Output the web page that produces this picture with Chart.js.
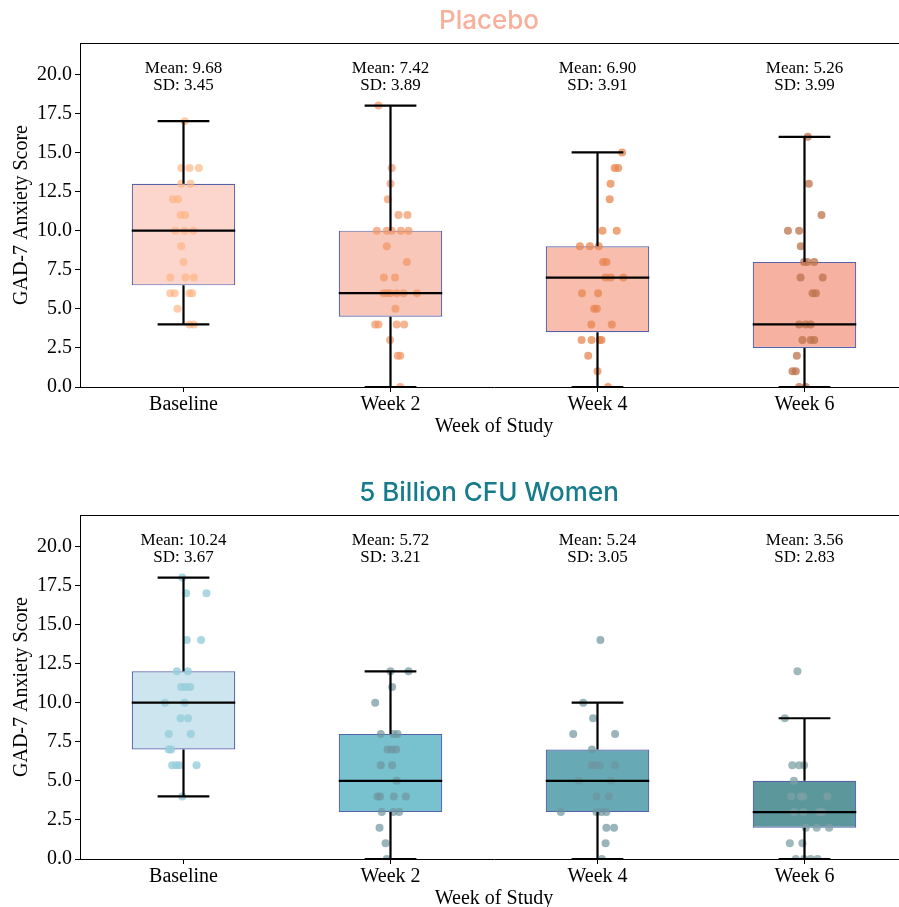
<!DOCTYPE html>
<html>
<head>
<meta charset="utf-8">
<script src="https://cdn.jsdelivr.net/npm/chart.js@4.4.1/dist/chart.umd.min.js"></script>
<style>
    html, body { margin: 0; padding: 0; background: #fff; overflow: hidden; }
    #wrap { position: relative; width: 899px; height: 907px; overflow: hidden; }
    canvas { position: absolute; left: 0; }
</style>
</head>
<body>
<div id="wrap">
    <canvas id="placeboChart" width="912" height="450" style="top:0px"></canvas>
    <canvas id="cfuChart" width="912" height="450" style="top:472px"></canvas>
</div>
<script>
const weeks = ['Baseline', 'Week 2', 'Week 4', 'Week 6'];

// Placebo summary
const placeboMean = [9.68, 7.42, 6.90, 5.26];
const placeboSD = [3.45, 3.89, 3.91, 3.99];
const placeboQ1 = [6.5, 4.5, 3.5, 2.5];
const placeboMedian = [10, 6, 7, 4];
const placeboQ3 = [13, 10, 9, 8];
const placeboLow = [4, 0, 0, 0];
const placeboHigh = [17, 18, 15, 16];

// Placebo individual scores (with strip jitter)
const placeboBaseline = [17, 14, 14, 14, 13, 13, 12, 12, 11, 11, 10, 10, 10, 9, 8, 7, 7, 7, 6, 6, 6, 6, 5, 4, 4];
const placeboBaselineJitter = [0.006, -0.011, 0.029, 0.074, -0.011, 0.034, -0.051, -0.027, -0.014, 0.008, -0.040, 0.005, 0.048, -0.011, 0.0, -0.064, 0.010, 0.050, -0.064, -0.043, 0.029, 0.042, -0.029, 0.029, 0.050];
const placeboWeek2 = [18, 14, 13, 12, 11, 11, 10, 10, 10, 10, 10, 9, 8, 7, 7, 6, 6, 6, 6, 6, 6, 5, 4, 4, 4, 4, 3, 2, 2, 0];
const placeboWeek2Jitter = [-0.058, 0.006, 0, -0.013, 0.039, 0.082, -0.066, -0.018, 0.006, 0.050, 0.087, -0.018, 0.079, -0.032, 0.022, -0.034, -0.018, -0.002, 0.030, 0.063, 0.128, 0.024, -0.074, -0.058, 0.030, 0.066, -0.002, 0.035, 0.047, 0.047];
const placeboWeek4 = [15, 14, 14, 13, 12, 10, 10, 9, 9, 9, 8, 8, 7, 7, 7, 6, 6, 5, 5, 4, 4, 3, 3, 3, 3, 2, 1, 0];
const placeboWeek4Jitter = [0.119, 0.083, 0.100, 0.063, 0.059, 0.024, 0.093, -0.085, -0.037, 0.006, 0.027, 0.043, 0.039, 0.064, 0.125, -0.075, 0.003, -0.016, -0.003, -0.030, 0.069, -0.077, -0.029, 0.011, 0.019, -0.045, 0, 0.051];
const placeboWeek6 = [16, 13, 11, 10, 10, 9, 8, 8, 8, 7, 7, 6, 6, 4, 4, 4, 3, 3, 3, 2, 1, 1, 0, 0];
const placeboWeek6Jitter = [0.016, 0.021, 0.082, -0.080, -0.026, -0.018, -0.002, 0.014, 0.047, -0.019, 0.088, 0.039, 0.055, -0.026, 0.006, 0.030, -0.010, 0.030, 0.047, -0.037, -0.058, -0.042, -0.026, 0.006];

// 5 Billion CFU summary
const cfuMean = [10.24, 5.72, 5.24, 3.56];
const cfuSD = [3.67, 3.21, 3.05, 2.83];
const cfuQ1 = [7, 3, 3, 2];
const cfuMedian = [10, 5, 5, 3];
const cfuQ3 = [12, 8, 7, 5];
const cfuLow = [4, 0, 0, 0];
const cfuHigh = [18, 12, 10, 9];

const cfuBaseline = [18, 17, 17, 14, 14, 12, 12, 11, 11, 11, 10, 10, 9, 9, 8, 8, 7, 7, 6, 6, 6, 6, 4];
const cfuBaselineJitter = [-0.006, 0.013, 0.111, 0.016, 0.085, -0.032, 0.021, -0.011, 0.010, 0.032, -0.090, 0.005, -0.014, 0.022, -0.071, 0.035, -0.071, -0.059, -0.055, -0.035, -0.019, 0.063, -0.006];
const cfuWeek2 = [12, 12, 11, 10, 8, 8, 8, 7, 7, 7, 6, 6, 5, 4, 4, 4, 4, 3, 3, 3, 2, 1, 0];
const cfuWeek2Jitter = [0, 0.087, 0.008, -0.074, -0.047, 0.014, 0.034, -0.014, 0.006, 0.027, -0.047, 0.008, 0.030, -0.063, -0.050, 0.016, 0.074, -0.042, 0.014, 0.042, -0.053, -0.024, -0.018];
const cfuWeek4 = [14, 10, 9, 8, 8, 7, 6, 6, 6, 6, 5, 5, 4, 4, 3, 3, 3, 3, 2, 2, 1, 0];
const cfuWeek4Jitter = [0.014, -0.069, -0.021, -0.117, 0.085, -0.027, -0.029, -0.013, 0.011, 0.085, -0.090, 0.066, -0.005, 0.055, -0.177, -0.005, 0.019, 0.043, 0.043, 0.080, 0.039, 0.021];
const cfuWeek6 = [12, 9, 6, 6, 6, 5, 4, 4, 4, 4, 3, 3, 3, 3, 2, 2, 2, 1, 1, 0, 0, 0, 0];
const cfuWeek6Jitter = [-0.034, -0.095, -0.059, -0.026, -0.002, -0.051, -0.064, -0.018, -0.005, 0.111, -0.050, -0.005, 0.071, 0.087, 0.006, 0.059, 0.119, -0.071, -0.010, -0.042, -0.002, 0.030, 0.063];

const placeboBoxColors = ['#fcd6cc', '#f9c7ba', '#f8bdad', '#f6b1a0'];
const placeboDotColors = ['rgba(253,178,128,0.65)', 'rgba(242,150,100,0.7)', 'rgba(232,135,80,0.75)', 'rgba(190,115,75,0.75)'];
const cfuBoxColors = ['#cce5ee', '#78c2cf', '#67aab5', '#5b979b'];
const cfuDotColors = ['rgba(150,205,220,0.8)', 'rgba(110,148,158,0.7)', 'rgba(110,148,158,0.7)', 'rgba(125,160,166,0.75)'];

const serif = "'Liberation Serif', 'Times New Roman', serif";

const panelPlugin = {
    id: 'panel',
    afterDatasetsDraw(chart, args, opts) {
        const { ctx, chartArea, scales } = chart;
        ctx.save();
        // frame (top / right spines)
        ctx.strokeStyle = '#000';
        ctx.lineWidth = 1;
        ctx.beginPath();
        ctx.moveTo(chartArea.left, chartArea.top + 0.5);
        ctx.lineTo(chartArea.right, chartArea.top + 0.5);
        ctx.lineTo(chartArea.right - 0.5, chartArea.bottom);
        ctx.stroke();
        // mean / sd labels
        ctx.fillStyle = '#000';
        ctx.font = '17px ' + serif;
        ctx.textAlign = 'center';
        ctx.textBaseline = 'middle';
        opts.mean.forEach((m, i) => {
            const x = scales.x.getPixelForValue(i);
            ctx.fillText('Mean: ' + m.toFixed(2), x, chartArea.top + 26);
            ctx.fillText('SD: ' + opts.sd[i].toFixed(2), x, chartArea.top + 43);
        });
        // panel title
        ctx.font = '500 26px Inter, sans-serif';
        ctx.fillStyle = opts.titleColor;
        ctx.fillText(opts.title, (chartArea.left + chartArea.right) / 2 - 5, 21);
        ctx.restore();
    }
};

function buildChart(canvasId, title, titleColor, stats, groups, jitters, boxColors, dotColors) {
    const datasets = [];

    datasets.push({
        type: 'bar',
        data: stats.q1.map((q, i) => ({ x: i, y: [q, stats.q3[i]] })),
        backgroundColor: boxColors,
        borderColor: 'rgba(55,70,155,0.85)',
        borderWidth: 1.2,
        borderSkipped: false,
        barPercentage: 0.5,
        categoryPercentage: 1,
        order: 3
    });

    groups.forEach((scores, i) => {
        datasets.push({
            type: 'scatter',
            data: scores.map((s, k) => ({ x: i + jitters[i][k], y: s })),
            backgroundColor: dotColors[i],
            borderWidth: 0,
            pointRadius: 4,
            order: 2
        });
    });

    const segs = [];
    stats.q1.forEach((q, i) => {
        segs.push({ x: i, y: stats.low[i] }, { x: i, y: q }, { x: i, y: null });
        segs.push({ x: i, y: stats.q3[i] }, { x: i, y: stats.high[i] }, { x: i, y: null });
        segs.push({ x: i - 0.125, y: stats.low[i] }, { x: i + 0.125, y: stats.low[i] }, { x: i, y: null });
        segs.push({ x: i - 0.125, y: stats.high[i] }, { x: i + 0.125, y: stats.high[i] }, { x: i, y: null });
        segs.push({ x: i - 0.25, y: stats.median[i] }, { x: i + 0.25, y: stats.median[i] }, { x: i, y: null });
    });
    datasets.push({
        type: 'scatter',
        data: segs,
        showLine: true,
        spanGaps: false,
        borderColor: '#000',
        borderWidth: 2.2,
        pointRadius: 0,
        order: 1
    });

    const ctx = document.getElementById(canvasId).getContext('2d');
    new Chart(ctx, {
        type: 'scatter',
        data: { datasets },
        options: {
            responsive: false,
            animation: false,
            devicePixelRatio: 1,
            layout: { padding: { top: 43, right: 0, left: 0, bottom: 11 } },
            plugins: {
                legend: { display: false },
                tooltip: { enabled: false },
                panel: { title, titleColor, mean: stats.mean, sd: stats.sd }
            },
            scales: {
                x: {
                    type: 'linear',
                    min: -0.5,
                    max: 3.5,
                    offset: false,
                    afterBuildTicks: (scale) => { scale.ticks = weeks.map((w, i) => ({ value: i })); },
                    afterFit: (scale) => { scale.height = 52; },
                    ticks: {
                        callback: (v) => weeks[v],
                        color: '#000',
                        font: { family: serif, size: 20 },
                        padding: 1,
                        maxRotation: 0,
                        autoSkip: false
                    },
                    grid: { display: true, drawOnChartArea: false, tickLength: 5, color: '#000', offset: false },
                    border: { display: true, color: '#000', width: 1 },
                    title: { display: true, text: 'Week of Study', color: '#000', font: { family: serif, size: 20 }, padding: { top: 0, bottom: 0 } }
                },
                y: {
                    min: 0,
                    max: 22,
                    afterFit: (scale) => { scale.width = 80; },
                    ticks: {
                        stepSize: 2.5,
                        includeBounds: false,
                        callback: (v) => v.toFixed(1),
                        color: '#000',
                        font: { family: serif, size: 20 },
                        padding: 3
                    },
                    grid: { display: true, drawOnChartArea: false, tickLength: 5, color: '#000' },
                    border: { display: true, color: '#000', width: 1 },
                    title: { display: true, text: 'GAD-7 Anxiety Score', color: '#000', font: { family: serif, size: 20 }, padding: { top: 10, bottom: 0 } }
                }
            }
        },
        plugins: [panelPlugin]
    });
}

buildChart('placeboChart', 'Placebo', '#f8b09c',
    { mean: placeboMean, sd: placeboSD, q1: placeboQ1, median: placeboMedian, q3: placeboQ3, low: placeboLow, high: placeboHigh },
    [placeboBaseline, placeboWeek2, placeboWeek4, placeboWeek6],
    [placeboBaselineJitter, placeboWeek2Jitter, placeboWeek4Jitter, placeboWeek6Jitter],
    placeboBoxColors, placeboDotColors);

buildChart('cfuChart', '5 Billion CFU Women', '#167b8b',
    { mean: cfuMean, sd: cfuSD, q1: cfuQ1, median: cfuMedian, q3: cfuQ3, low: cfuLow, high: cfuHigh },
    [cfuBaseline, cfuWeek2, cfuWeek4, cfuWeek6],
    [cfuBaselineJitter, cfuWeek2Jitter, cfuWeek4Jitter, cfuWeek6Jitter],
    cfuBoxColors, cfuDotColors);
</script>
</body>
</html>
